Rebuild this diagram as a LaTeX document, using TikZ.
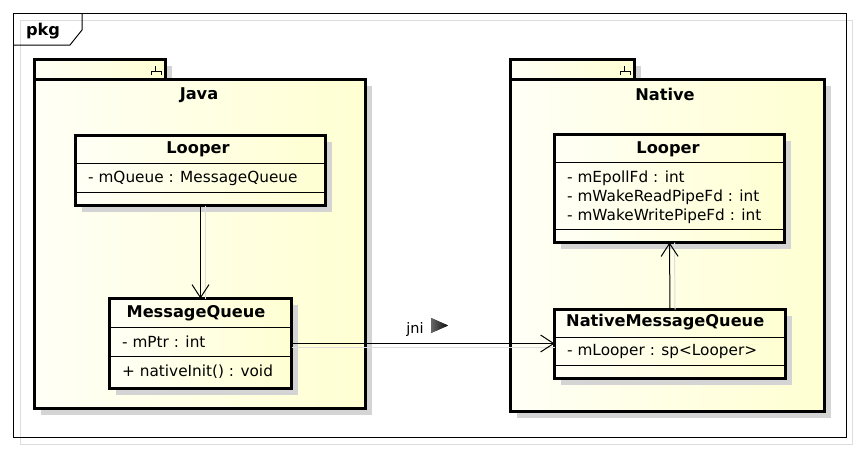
\documentclass[tikz,border=0pt]{standalone}
\usepackage{fontspec}
\setmainfont{DejaVu Sans}
\usetikzlibrary{arrows.meta,shadows}
\definecolor{yfL}{HTML}{FFFFF6}
\definecolor{yfR}{HTML}{FFFFD2}
\definecolor{shadowgray}{HTML}{D4D4D4}
\definecolor{framegray}{HTML}{DDDDDD}
\tikzset{
  yfill/.style={left color=yfL, right color=yfR},
  box/.style={draw, line width=3pt, yfill, inner sep=0pt, outer sep=0pt, anchor=north west,
    drop shadow={shadow xshift=6pt, shadow yshift=-6pt, fill=shadowgray, opacity=1}},
  divider/.style={line width=1pt},
  title/.style={font=\fontsize{16.2}{19}\selectfont\bfseries, inner sep=0pt},
  attr/.style={font=\fontsize{15.3}{18}\selectfont, inner sep=0pt, anchor=west},
  conn/.style={line width=1pt, -{Straight Barb[length=13pt,width=17pt,line width=1pt]}},
  connshadow/.style={line width=1pt, draw=framegray},
  icon/.style={line width=1pt},
}
\begin{document}
\begin{tikzpicture}[x=1pt,y=-1pt]
\useasboundingbox (0,0) rectangle (858,450);
% outer frame
\draw[framegray, line width=1pt] (20,20) rectangle (852,444);
\draw[line width=1pt] (13,13) rectangle (846,437);
\draw[line width=1pt] (13,45) -- (70,45) -- (82,30) -- (82,13);
\node[title] (pkg) at (43,31) {pkg};

% Java package
\node[box, minimum width=131pt, minimum height=20pt] (javatab) at (34.5,59.5) {};
\node[box, minimum width=331pt, minimum height=329pt] (java) at (34.5,79.5) {};
\draw[icon] (151,75) -- (151,71) -- (161,71) -- (161,75) (155,71) -- (155,66);
\node[title] (javatitle) at (199,95) {Java};

% Native package
\node[box, minimum width=124pt, minimum height=20pt] (nativetab) at (510.5,59.5) {};
\node[box, minimum width=314pt, minimum height=332pt] (native) at (510.5,79.5) {};
\draw[icon] (620,75) -- (620,71) -- (630,71) -- (630,75) (624,71) -- (624,66);
\node[title] (nativetitle) at (665,94) {Native};

% Java Looper
\node[box, minimum width=250pt, minimum height=70pt] (jl) at (75.5,135.5) {};
\draw[divider] (jl.west |- 0,163) -- (jl.east |- 0,163);
\draw[divider] (jl.west |- 0,192) -- (jl.east |- 0,192);
\node[title] (jltitle) at (198,149) {Looper};
\node[attr] (jla1) at (88,178) {- mQueue : MessageQueue};

% MessageQueue
\node[box, minimum width=182pt, minimum height=90pt] (mq) at (109.5,298.5) {};
\draw[divider] (mq.west |- 0,327) -- (mq.east |- 0,327);
\draw[divider] (mq.west |- 0,356) -- (mq.east |- 0,356);
\node[title] (mqtitle) at (196,313) {MessageQueue};
\node[attr] (mqa1) at (122,342) {- mPtr : int};
\node[attr] (mqo1) at (122,372) {+ nativeInit() : void};

% Native Looper
\node[box, minimum width=230pt, minimum height=108pt] (nl) at (554.5,134.5) {};
\draw[divider] (nl.west |- 0,162) -- (nl.east |- 0,162);
\draw[divider] (nl.west |- 0,229) -- (nl.east |- 0,229);
\node[title] (nltitle) at (668,149) {Looper};
\node[attr] (nla1) at (567,178) {- mEpollFd : int};
\node[attr] (nla2) at (567,197) {- mWakeReadPipeFd : int};
\node[attr] (nla3) at (567,216) {- mWakeWritePipeFd : int};

% NativeMessageQueue
\node[box, minimum width=231pt, minimum height=69pt] (nmq) at (554.5,309.5) {};
\draw[divider] (nmq.west |- 0,337) -- (nmq.east |- 0,337);
\draw[divider] (nmq.west |- 0,365) -- (nmq.east |- 0,365);
\node[title, anchor=west] (nmqtitle) at (566,322) {NativeMessageQueue};
\node[attr] (nmqa1) at (567,352) {- mLooper : sp<Looper>};

% connectors
\draw[connshadow] ([xshift=5pt]jl.south) -- ([xshift=5pt]mq.north);
\draw[conn] (jl.south) -- (mq.north);
\draw[connshadow] ([xshift=5pt]nmq.north) -- ([xshift=5pt]nl.south);
\draw[conn] (nmq.north) -- (nl.south);
\draw[connshadow] ([yshift=-4pt]mq.east) -- ([yshift=-4pt]nmq.west |- mq.east);
\draw[conn] (mq.east) -- (nmq.west |- mq.east);
\node[font=\fontsize{14.5}{17}\selectfont, inner sep=0pt] (jni) at (415,329) {jni};
\coordinate (tri) at (431,318);
\fill[left color=black!60, right color=black!95] (tri) -- ++(17,7.5) -- ++(-17,7.5) -- cycle;
\end{tikzpicture}
\end{document}
